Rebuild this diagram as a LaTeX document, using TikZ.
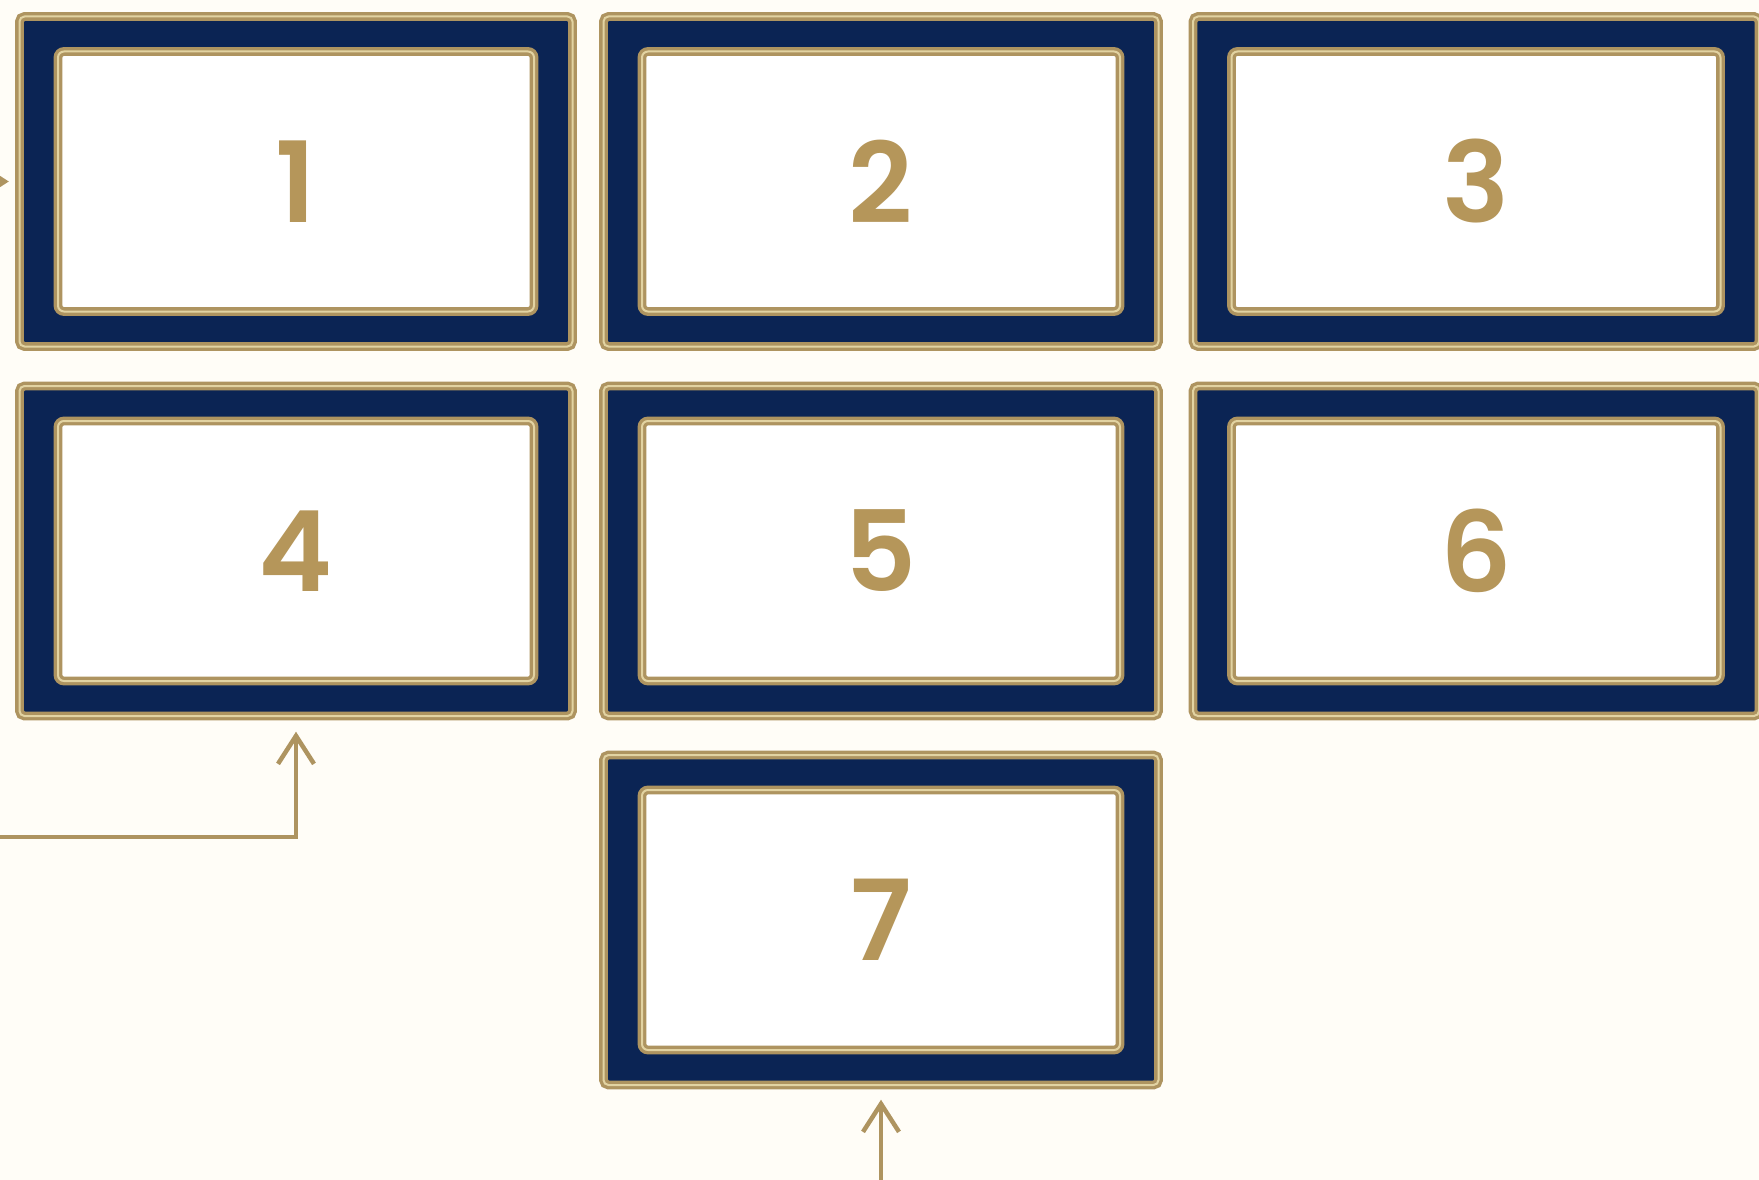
\documentclass[tikz,border=0pt]{standalone}
\usepackage{fontspec}
\setmainfont{Poppins}
\newfontfamily\numfont{Poppins SemiBold}
\usepackage{xcolor}
\usepackage{tikz}
\usetikzlibrary{arrows.meta, positioning}
\definecolor{knavy}{HTML}{0B2454}
\definecolor{kgold}{HTML}{AE9460}
\definecolor{kgoldlight}{HTML}{E2D3A2}
\definecolor{kgoldtext}{HTML}{B5965A}
\definecolor{kcream}{HTML}{FFFDF7}

\tikzset{
  frame/.style={rectangle, rounded corners=5pt, minimum height=330pt,
    fill=knavy, draw=kgold, line width=3.4pt, double=kgoldlight, double distance=2pt},
  panel/.style={rectangle, rounded corners=6pt, minimum height=260pt,
    fill=white, draw=kgold, line width=3.4pt, double=kgoldlight, double distance=2pt,
    text=kgoldtext, font=\fontsize{112}{112}\numfont},
  link/.style={draw=kgold, line width=4.5pt, -{Straight Barb[length=28pt, width=36pt]}}
}

\begin{document}
\begin{tikzpicture}[x=1pt, y=-1pt]

  %% Page
  \clip (0,0) rectangle (1759,1180);
  \fill[kcream] (0,0) rectangle (1759,1180);

  %% Framed panels, rows 1 and 2
  \foreach \n/\x/\y/\w in {1/296/181.5/553, 2/881/181.5/555, 3/1476/181.5/566,
                           4/296/551/553, 5/881/551/555, 6/1476/551/566}{
    \node[frame, minimum width=\w pt] (f\n) at (\x,\y) {};
    \node[panel, minimum width=\w pt - 77pt] (p\n) at (f\n.center) {\n};
  }

  %% Panel 7, row 3
  \node[frame, minimum width=555pt] (f7) at (881,920) {};
  \node[panel, minimum width=478pt] (p7) at (f7.center) {7};

  %% Incoming arrows
  \coordinate (in1) at (-60,181.5);
  \coordinate (in4) at (-10,837);
  \coordinate (in7) at (881,1195);
  \draw[link, shorten >=9pt] (in1) -- (f1.west);
  \draw[link, shorten >=14pt] (in4) -| (f4.south);
  \draw[link, shorten >=13pt] (in7) -- (f7.south);

\end{tikzpicture}
\end{document}
